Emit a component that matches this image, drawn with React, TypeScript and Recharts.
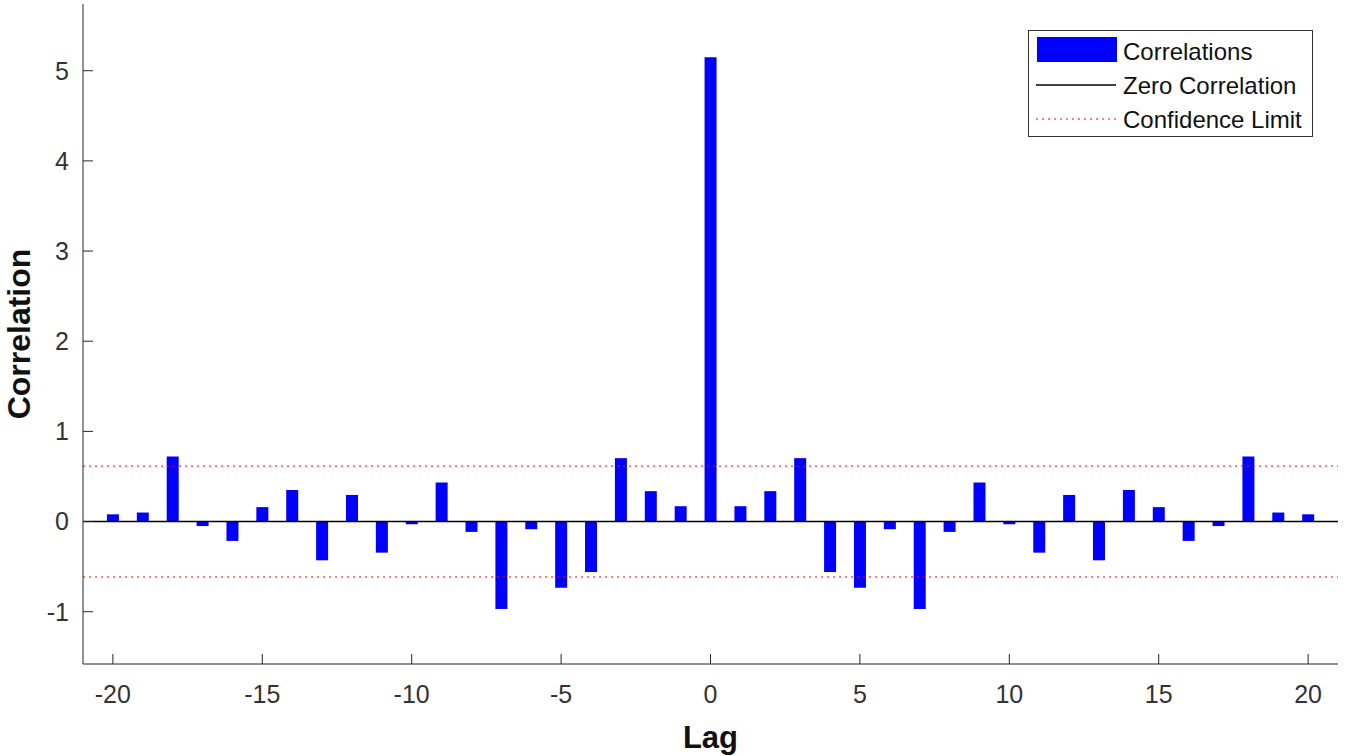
import {
  Bar,
  ComposedChart,
  ReferenceLine,
  XAxis,
  YAxis,
} from "recharts";

const lags = [
  -20, -19, -18, -17, -16, -15, -14, -13, -12, -11, -10, -9, -8, -7, -6, -5, -4,
  -3, -2, -1, 0, 1, 2, 3, 4, 5, 6, 7, 8, 9, 10, 11, 12, 13, 14, 15, 16, 17, 18,
  19, 20,
];

const correlations = [
  0.08, 0.1, 0.72, -0.05, -0.215, 0.16, 0.35, -0.43, 0.295, -0.345, -0.03,
  0.433, -0.115, -0.97, -0.085, -0.733, -0.56, 0.703, 0.337, 0.17, 5.15, 0.17,
  0.337, 0.703, -0.56, -0.733, -0.085, -0.97, -0.115, 0.433, -0.03, -0.345,
  0.295, -0.43, 0.35, 0.16, -0.215, -0.05, 0.72, 0.1, 0.08,
];

const xTicks = [-20, -15, -10, -5, 0, 5, 10, 15, 20];
const yTicks = [-1, 0, 1, 2, 3, 4, 5];
const confidenceLimit = 0.615;

const BAR = "#0000ff";
const AXIS = "#262626";
const LIMIT = "#ff0000";
const FONT = "'Liberation Sans', Arial, sans-serif";

const data = lags.map((lag, i) => ({ lag, value: correlations[i] }));

function LegendBox() {
  return (
    <div style={{ position: "absolute", left: 1028, top: 30 }}>
      <svg width={285} height={107} style={{ display: "block" }}>
        <rect x={0.5} y={0.5} width={284} height={106} fill="#fff" stroke="#333" />
        <rect x={9} y={7} width={80} height={25} fill={BAR} />
        <line x1={8} x2={88} y1={55} y2={55} stroke="#000" strokeWidth={1.4} />
        <line x1={8} x2={88} y1={89} y2={89} stroke={LIMIT} strokeWidth={1} strokeDasharray="2 4" />
        {["Correlations", "Zero Correlation", "Confidence Limit"].map((t, i) => (
          <text
            key={t}
            x={95}
            y={21 + i * 34}
            dy="0.36em"
            fontSize={24}
            fontFamily={FONT}
            fill="#111"
          >
            {t}
          </text>
        ))}
      </svg>
    </div>
  );
}

export default function App() {
  return (
    <div style={{ position: "absolute", left: 0, top: 0, width: 1348, height: 756, background: "#fff" }}>
      <ComposedChart
        width={1348}
        height={756}
        data={data}
        margin={{ top: 4, right: 10, bottom: 0, left: 0 }}
      >
        <XAxis
          dataKey="lag"
          type="number"
          domain={[-21, 21]}
          ticks={xTicks}
          height={92}
          stroke={AXIS}
          tickSize={-10}
          tickMargin={31}
          tick={{ fill: "#333", fontSize: 25, fontFamily: FONT }}
          label={{
            value: "Lag",
            position: "insideBottom",
            offset: 8,
            style: { fill: "#111", fontSize: 31, fontWeight: "bold", fontFamily: FONT },
          }}
        />
        <YAxis
          type="number"
          domain={[-1.58, 5.74]}
          ticks={yTicks}
          width={83}
          stroke={AXIS}
          tickSize={-10}
          tickMargin={24}
          tick={{ fill: "#333", fontSize: 25, fontFamily: FONT }}
          label={{
            value: "Correlation",
            angle: -90,
            position: "center",
            dx: -23,
            style: { fill: "#111", fontSize: 32, fontWeight: "bold", fontFamily: FONT, textAnchor: "middle" },
          }}
        />
        <Bar dataKey="value" fill={BAR} barSize={12} isAnimationActive={false} />
        <ReferenceLine y={0} stroke="#000" strokeWidth={1.5} />
        <ReferenceLine y={confidenceLimit} stroke={LIMIT} strokeDasharray="2 4" />
        <ReferenceLine y={-confidenceLimit} stroke={LIMIT} strokeDasharray="2 4" />
      </ComposedChart>
      <LegendBox />
    </div>
  );
}
